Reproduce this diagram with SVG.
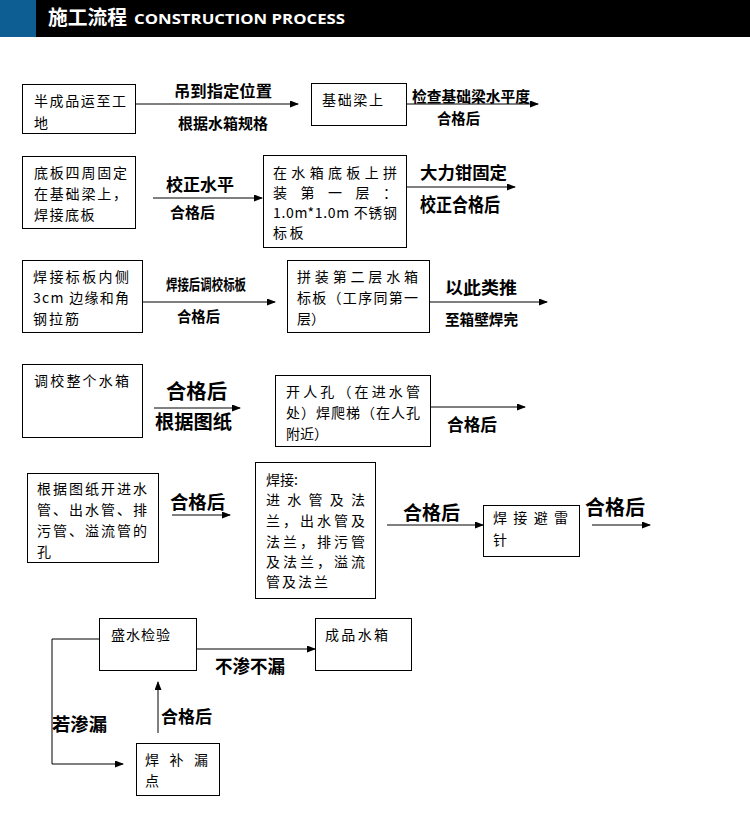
<svg xmlns="http://www.w3.org/2000/svg" width="750" height="830" viewBox="0 0 750 830">
<style>
.bx{fill:#fff;stroke:#000;stroke-width:1}
.t{font-family:"Noto Sans CJK SC","Liberation Sans",sans-serif;font-size:14px;fill:#000}
.l{font-family:"Noto Sans CJK SC","Liberation Sans",sans-serif;font-weight:bold;fill:#000}
.ln{stroke:#000;stroke-width:1;fill:none}
</style>
<defs>
<marker id="ah" markerWidth="9" markerHeight="7" refX="8" refY="3.5" orient="auto" markerUnits="userSpaceOnUse">
<path d="M0,0 L9,3.5 L0,7 z" fill="#000"/>
</marker>
</defs>
<rect width="750" height="830" fill="#fff"/>
<g id="header">
<rect x="0" y="0" width="750" height="37" fill="#000"/>
<rect x="0" y="0" width="36" height="37" fill="#0d5f93"/>
<text x="48" y="25" font-family="Noto Sans CJK SC,sans-serif" font-weight="bold" font-size="20" fill="#fff" textLength="79" lengthAdjust="spacingAndGlyphs">施工流程</text>
<text x="134" y="24" font-family="Open Sans,sans-serif" font-weight="bold" font-size="15" fill="#fff" textLength="211" lengthAdjust="spacingAndGlyphs">CONSTRUCTION PROCESS</text>
</g>

<g id="connectors">
<line class="ln" x1="136" y1="104" x2="298" y2="104" marker-end="url(#ah)"/>
<line class="ln" x1="395" y1="104" x2="538" y2="104" marker-end="url(#ah)"/>
<line class="ln" x1="153" y1="198" x2="262" y2="198" marker-end="url(#ah)"/>
<line class="ln" x1="406" y1="187" x2="515" y2="187" marker-end="url(#ah)"/>
<line class="ln" x1="143" y1="302" x2="275" y2="302" marker-end="url(#ah)"/>
<line class="ln" x1="430" y1="302" x2="547" y2="302" marker-end="url(#ah)"/>
<line class="ln" x1="154" y1="408" x2="240" y2="408" marker-end="url(#ah)"/>
<line class="ln" x1="430" y1="407" x2="525" y2="407" marker-end="url(#ah)"/>
<line class="ln" x1="172" y1="515" x2="230" y2="515" marker-end="url(#ah)"/>
<line class="ln" x1="387" y1="525" x2="483" y2="525" marker-end="url(#ah)"/>
<line class="ln" x1="592" y1="525" x2="650" y2="525" marker-end="url(#ah)"/>
<line class="ln" x1="196" y1="649" x2="315" y2="649" marker-end="url(#ah)"/>
<polyline class="ln" points="99,639 52,639 52,764 123,764" marker-end="url(#ah)"/>
<line class="ln" x1="158" y1="733" x2="158" y2="682" marker-end="url(#ah)"/>
</g>

<g id="labels">
<text class="l" x="174" y="97" font-size="16" textLength="98" lengthAdjust="spacingAndGlyphs">吊到指定位置</text>
<text class="l" x="178" y="129" font-size="15" textLength="90" lengthAdjust="spacingAndGlyphs">根据水箱规格</text>
<text class="l" x="412" y="102" font-size="15" textLength="118" lengthAdjust="spacingAndGlyphs">检查基础梁水平度</text>
<text class="l" x="437" y="124" font-size="15" textLength="43" lengthAdjust="spacingAndGlyphs">合格后</text>
<text class="l" x="166" y="191" font-size="17" textLength="68" lengthAdjust="spacingAndGlyphs">校正水平</text>
<text class="l" x="170" y="218" font-size="15" textLength="45" lengthAdjust="spacingAndGlyphs">合格后</text>
<text class="l" x="420" y="179" font-size="17" textLength="87" lengthAdjust="spacingAndGlyphs">大力钳固定</text>
<text class="l" x="420" y="212" font-size="19" textLength="80" lengthAdjust="spacingAndGlyphs">校正合格后</text>
<text class="l" x="166" y="290" font-size="15" textLength="80" lengthAdjust="spacingAndGlyphs">焊接后调校标板</text>
<text class="l" x="177" y="322" font-size="15" textLength="43" lengthAdjust="spacingAndGlyphs">合格后</text>
<text class="l" x="445" y="294" font-size="17" textLength="72" lengthAdjust="spacingAndGlyphs">以此类推</text>
<text class="l" x="445" y="325" font-size="15" textLength="73" lengthAdjust="spacingAndGlyphs">至箱壁焊完</text>
<text class="l" x="166" y="399" font-size="20" textLength="61" lengthAdjust="spacingAndGlyphs">合格后</text>
<text class="l" x="155" y="429" font-size="19" textLength="77" lengthAdjust="spacingAndGlyphs">根据图纸</text>
<text class="l" x="447" y="431" font-size="17" textLength="50" lengthAdjust="spacingAndGlyphs">合格后</text>
<text class="l" x="170" y="509" font-size="18" textLength="55" lengthAdjust="spacingAndGlyphs">合格后</text>
<text class="l" x="403" y="520" font-size="19" textLength="57" lengthAdjust="spacingAndGlyphs">合格后</text>
<text class="l" x="585" y="515" font-size="20" textLength="60" lengthAdjust="spacingAndGlyphs">合格后</text>
<text class="l" x="215" y="673" font-size="18" textLength="70" lengthAdjust="spacingAndGlyphs">不渗不漏</text>
<text class="l" x="52" y="731" font-size="18" textLength="55" lengthAdjust="spacingAndGlyphs">若渗漏</text>
<text class="l" x="161" y="723" font-size="17" textLength="51" lengthAdjust="spacingAndGlyphs">合格后</text>
</g>

<g id="n1"><rect class="bx" x="22.5" y="84.5" width="113" height="49"/>
<text class="t" x="34" y="106" textLength="92" lengthAdjust="spacing">半成品运至工</text>
<text class="t" x="34" y="128">地</text></g>
<g id="n2"><rect class="bx" x="311.5" y="83.5" width="95" height="42"/>
<text class="t" x="322" y="105" textLength="61" lengthAdjust="spacing">基础梁上</text></g>
<g id="n3"><rect class="bx" x="22.5" y="156.5" width="113" height="72"/>
<text class="t" x="34" y="178" textLength="93" lengthAdjust="spacing">底板四周固定</text>
<text class="t" x="34" y="199" textLength="93" lengthAdjust="spacing">在基础梁上，</text>
<text class="t" x="34" y="220" letter-spacing="1.5">焊接底板</text></g>
<g id="n4"><rect class="bx" x="263.5" y="155.5" width="143" height="92"/>
<text class="t" x="273" y="178" textLength="124" lengthAdjust="spacing">在水箱底板上拼</text>
<text class="t" x="273" y="198" textLength="124" lengthAdjust="spacing">装第一层：</text>
<text class="t" x="273" y="218" textLength="124" lengthAdjust="spacing">1.0m*1.0m 不锈钢</text>
<text class="t" x="273" y="238" letter-spacing="2.5">标板</text></g>
<g id="n5"><rect class="bx" x="22.5" y="260.5" width="120" height="72"/>
<text class="t" x="33" y="282" textLength="96" lengthAdjust="spacing">焊接标板内侧</text>
<text class="t" x="33" y="303" textLength="96" lengthAdjust="spacing">3cm 边缘和角</text>
<text class="t" x="33" y="324" letter-spacing="2">钢拉筋</text></g>
<g id="n6"><rect class="bx" x="287.5" y="260.5" width="142" height="72"/>
<text class="t" x="297" y="282" textLength="121" lengthAdjust="spacing">拼装第二层水箱</text>
<text class="t" x="297" y="303" textLength="121" lengthAdjust="spacing">标板（工序同第一</text>
<text class="t" x="297" y="324">层）</text></g>
<g id="n7"><rect class="bx" x="22.5" y="364.5" width="120" height="73"/>
<text class="t" x="34" y="386" textLength="95" lengthAdjust="spacing">调校整个水箱</text></g>
<g id="n8"><rect class="bx" x="275.5" y="375.5" width="155" height="71"/>
<text class="t" x="286" y="397" textLength="134" lengthAdjust="spacing">开人孔（在进水管</text>
<text class="t" x="286" y="418" textLength="134" lengthAdjust="spacing">处）焊爬梯（在人孔</text>
<text class="t" x="286" y="439">附近）</text></g>
<g id="n9"><rect class="bx" x="27.5" y="473.5" width="131" height="89"/>
<text class="t" x="37" y="494" textLength="110" lengthAdjust="spacing">根据图纸开进水</text>
<text class="t" x="37" y="515" textLength="110" lengthAdjust="spacing">管、出水管、排</text>
<text class="t" x="37" y="536" textLength="110" lengthAdjust="spacing">污管、溢流管的</text>
<text class="t" x="37" y="557">孔</text></g>
<g id="n10"><rect class="bx" x="255.5" y="462.5" width="120" height="136"/>
<text class="t" x="266" y="485">焊接:</text>
<text class="t" x="266" y="505" textLength="99" lengthAdjust="spacing">进水管及法</text>
<text class="t" x="266" y="526" textLength="99" lengthAdjust="spacing">兰，出水管及</text>
<text class="t" x="266" y="547" textLength="99" lengthAdjust="spacing">法兰，排污管</text>
<text class="t" x="266" y="567" textLength="99" lengthAdjust="spacing">及法兰，溢流</text>
<text class="t" x="266" y="587" textLength="62" lengthAdjust="spacing">管及法兰</text></g>
<g id="n11"><rect class="bx" x="483.5" y="505.5" width="96" height="51"/>
<text class="t" x="493" y="523" textLength="75" lengthAdjust="spacing">焊接避雷</text>
<text class="t" x="493" y="545">针</text></g>
<g id="n12"><rect class="bx" x="99.5" y="618.5" width="97" height="52"/>
<text class="t" x="111" y="640" textLength="59" lengthAdjust="spacing">盛水检验</text></g>
<g id="n13"><rect class="bx" x="315.5" y="618.5" width="96" height="52"/>
<text class="t" x="325" y="640" textLength="63" lengthAdjust="spacing">成品水箱</text></g>
<g id="n14"><rect class="bx" x="136.5" y="743.5" width="83" height="52"/>
<text class="t" x="145" y="765" textLength="63" lengthAdjust="spacing">焊补漏</text>
<text class="t" x="145" y="786">点</text></g>
</svg>
